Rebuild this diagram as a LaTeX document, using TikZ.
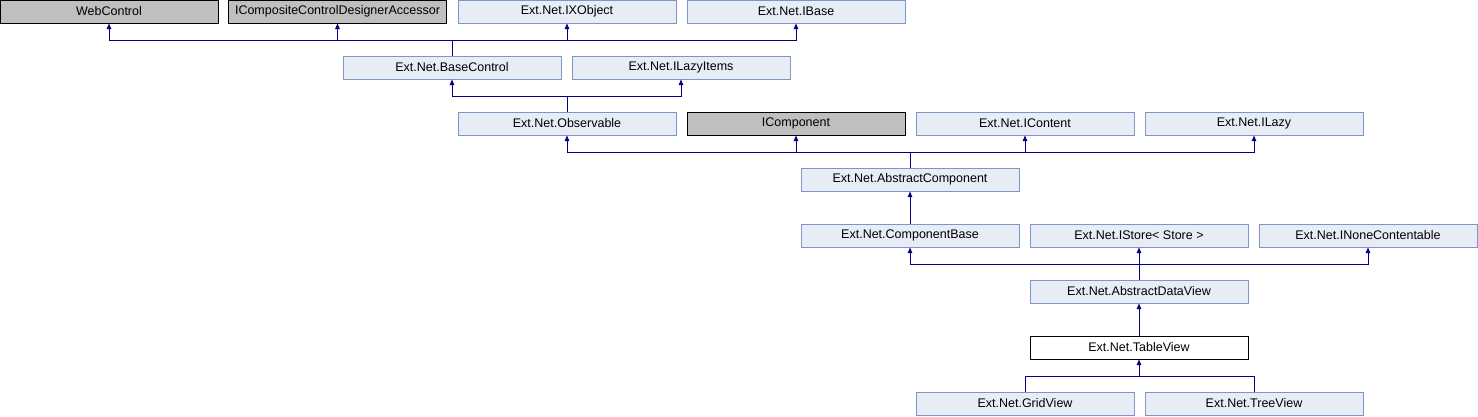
\documentclass[tikz,border=0pt]{standalone}
\usepackage{fontspec}
\setmainfont{Liberation Sans}
\usetikzlibrary{arrows.meta}
\definecolor{boxfill}{HTML}{E8ECF5}
\definecolor{boxline}{HTML}{7D95C8}
\definecolor{grayfill}{HTML}{BFBFBF}
\definecolor{linkcol}{HTML}{000080}
\tikzset{
  cls/.style={draw=boxline, fill=boxfill, line width=1pt, minimum width=218pt, minimum height=23pt, inner sep=0pt, font=\fontsize{12.5}{13}\selectfont},
  ext/.style={cls, draw=black, fill=grayfill},
  cur/.style={cls, draw=black, fill=white},
  link/.style={draw=linkcol, line width=1pt},
  arr/.style={link, -{Triangle[width=4.5pt,length=5.5pt]}},
}
\begin{document}
\begin{tikzpicture}[x=1pt,y=-1pt]
\useasboundingbox (0,0) rectangle (1478,416);
% row 1
\node[ext] (wc) at (109,11.5) {WebControl};
\node[ext] (icc) at (337.5,11.5) {ICompositeControlDesignerAccessor};
\node[cls] (ixo) at (567,11.5) {Ext.Net.IXObject};
\node[cls] (ibase) at (796,11.5) {Ext.Net.IBase};
% row 2
\node[cls] (bc) at (452,67.5) {Ext.Net.BaseControl};
\node[cls] (ili) at (681,67.5) {Ext.Net.ILazyItems};
% row 3
\node[cls] (obs) at (567,123.5) {Ext.Net.Observable};
\node[ext] (icomp) at (796,123.5) {IComponent};
\node[cls] (icont) at (1025,123.5) {Ext.Net.IContent};
\node[cls] (ilazy) at (1254,123.5) {Ext.Net.ILazy};
% row 4
\node[cls] (ac) at (910,179.5) {Ext.Net.AbstractComponent};
% row 5
\node[cls] (cb) at (910,235.5) {Ext.Net.ComponentBase};
\node[cls] (ist) at (1139,235.5) {Ext.Net.IStore< Store >};
\node[cls] (inc) at (1368,235.5) {Ext.Net.INoneContentable};
% row 6
\node[cls] (adv) at (1139,291.5) {Ext.Net.AbstractDataView};
% row 7
\node[cur] (tv) at (1139,347.5) {Ext.Net.TableView};
% row 8
\node[cls] (gv) at (1025,403.5) {Ext.Net.GridView};
\node[cls] (trv) at (1254,403.5) {Ext.Net.TreeView};
% bus coordinates
\coordinate (b1) at (452,40);
\coordinate (b2) at (567,96);
\coordinate (b3) at (910,152);
\coordinate (b5) at (1139,264);
\coordinate (b7) at (1139,376);
% row 2 -> row 1
\draw[link] (bc.north) -- (b1);
\draw[arr] (b1) -| (wc.south);
\draw[arr] (b1) -| (icc.south);
\draw[arr] (b1) -| (ixo.south);
\draw[arr] (b1) -| (ibase.south);
% row 3 -> row 2
\draw[link] (obs.north) -- (b2);
\draw[arr] (b2) -| (bc.south);
\draw[arr] (b2) -| (ili.south);
% row 4 -> row 3
\draw[link] (ac.north) -- (b3);
\draw[arr] (b3) -| (obs.south);
\draw[arr] (b3) -| (icomp.south);
\draw[arr] (b3) -| (icont.south);
\draw[arr] (b3) -| (ilazy.south);
% row 5 -> row 4
\draw[arr] (cb.north) -- (ac.south);
% row 6 -> row 5
\draw[link] (adv.north) -- (b5);
\draw[arr] (b5) -| (cb.south);
\draw[arr] (b5) -- (ist.south);
\draw[arr] (b5) -| (inc.south);
% row 7 -> row 6
\draw[arr] (tv.north) -- (adv.south);
% row 8 -> row 7
\draw[link] (gv.north) |- (b7);
\draw[link] (trv.north) |- (b7);
\draw[arr] (b7) -- (tv.south);
\end{tikzpicture}
\end{document}
